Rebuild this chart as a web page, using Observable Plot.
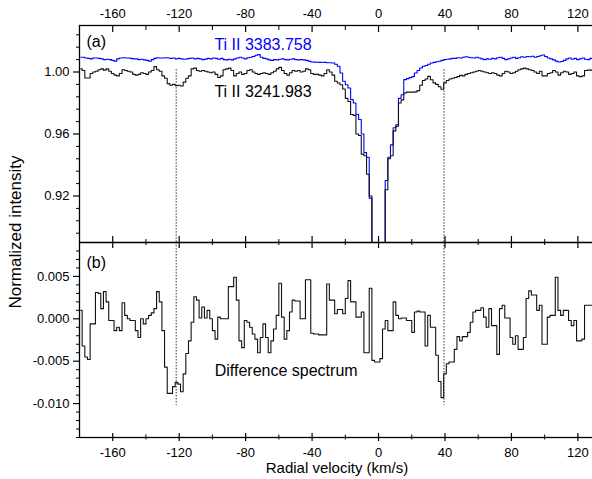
<!DOCTYPE html>
<html><head><meta charset="utf-8">
<script src="https://cdn.jsdelivr.net/npm/d3@7"></script>
<script src="https://cdn.jsdelivr.net/npm/@observablehq/plot@0.6"></script>
<style>
html,body{margin:0;padding:0;background:#fff;overflow:hidden;}
#chart{position:relative;width:592px;height:479px;overflow:hidden;font-family:Arial,"Liberation Sans",sans-serif;}
#chart svg{position:absolute;left:0;}
#ylab{position:absolute;left:14.5px;top:232px;transform:translate(-50%,-50%) rotate(-90deg);font-size:17px;line-height:1;white-space:nowrap;color:#000;}
</style></head><body><div id="chart"><div id="ylab">Normalized intensity</div></div>
<script>
// Velocity grid of the spectra (km/s): first bin edge and bin width
const vStart = -180, binWidth = 1.6;

// Panel (a): Ti II 3383.758 (blue)
const blueFlux = [
1.0095,1.0095,1.0090,1.0088,1.0085,1.0090,1.0090,1.0088,1.0085,1.0080,
1.0082,1.0080,1.0075,1.0070,1.0085,1.0090,1.0092,1.0090,1.0090,1.0088,
1.0085,1.0085,1.0080,1.0082,1.0078,1.0075,1.0070,1.0080,1.0088,1.0092,
1.0090,1.0090,1.0092,1.0090,1.0088,1.0090,1.0085,1.0088,1.0085,1.0082,
1.0085,1.0088,1.0090,1.0085,1.0088,1.0085,1.0080,1.0083,1.0088,1.0085,
1.0090,1.0088,1.0082,1.0088,1.0080,1.0078,1.0082,1.0078,1.0085,1.0090,
1.0095,1.0090,1.0085,1.0092,1.0095,1.0100,1.0108,1.0112,1.0095,1.0088,
1.0085,1.0078,1.0075,1.0080,1.0078,1.0082,1.0085,1.0080,1.0078,1.0082,
1.0085,1.0080,1.0078,1.0080,1.0078,1.0075,1.0070,1.0065,1.0064,1.0063,
1.0062,1.0063,1.0062,1.0060,1.0060,1.0058,1.0050,1.0037,0.9994,0.9940,
0.9918,0.9897,0.9822,0.9800,0.9726,0.9694,0.9600,0.9480,0.9450,0.9186,
0.8800,0.8600,0.8550,0.8600,0.8750,0.9300,0.9450,0.9530,0.9640,0.9660,
0.9830,0.9853,0.9951,0.9957,0.9964,0.9970,0.9994,1.0010,1.0026,1.0037,
1.0042,1.0050,1.0058,1.0062,1.0066,1.0069,1.0075,1.0080,1.0082,1.0085,
1.0088,1.0088,1.0092,1.0090,1.0095,1.0098,1.0095,1.0092,1.0090,1.0095,
1.0090,1.0085,1.0080,1.0085,1.0082,1.0088,1.0085,1.0092,1.0095,1.0088,
1.0080,1.0085,1.0090,1.0095,1.0088,1.0092,1.0098,1.0095,1.0100,1.0098,
1.0102,1.0095,1.0100,1.0105,1.0110,1.0100,1.0090,1.0085,1.0078,1.0070,
1.0065,1.0068,1.0075,1.0085,1.0090,1.0082,1.0088,1.0080,1.0085,1.0090,
1.0082,1.0080,1.0088,1.0090
];

// Panel (a): Ti II 3241.983 (black)
const blackFlux = [
1.0020,1.0010,0.9961,0.9961,0.9990,1.0000,1.0005,1.0015,1.0020,1.0012,
1.0020,1.0005,0.9990,0.9980,0.9975,0.9990,1.0015,1.0010,1.0005,1.0000,
0.9985,0.9980,0.9985,0.9995,0.9990,0.9985,1.0000,1.0010,1.0035,1.0015,
1.0005,0.9975,0.9960,0.9925,0.9915,0.9920,0.9912,0.9915,0.9910,0.9935,
0.9960,0.9975,1.0020,1.0025,1.0010,1.0005,1.0010,1.0005,1.0000,0.9995,
1.0000,0.9985,0.9965,0.9975,1.0015,1.0020,1.0025,1.0010,0.9975,0.9990,
1.0000,0.9985,0.9990,1.0010,1.0015,1.0000,0.9990,0.9985,0.9990,0.9995,
0.9990,0.9985,0.9995,1.0005,1.0020,1.0030,1.0010,0.9990,0.9980,0.9995,
1.0010,1.0005,1.0010,1.0000,1.0005,1.0020,1.0015,0.9990,0.9985,0.9985,
0.9980,0.9975,0.9990,1.0015,1.0000,0.9980,0.9940,0.9929,0.9918,0.9890,
0.9830,0.9810,0.9726,0.9720,0.9600,0.9590,0.9470,0.9460,0.9340,0.9200,
0.8700,0.8500,0.8500,0.8600,0.8800,0.9240,0.9440,0.9460,0.9620,0.9650,
0.9800,0.9820,0.9865,0.9870,0.9870,0.9870,0.9872,0.9880,0.9915,0.9945,
0.9955,0.9972,0.9950,0.9930,0.9920,0.9905,0.9889,0.9930,0.9945,0.9955,
0.9960,0.9965,0.9970,0.9978,0.9975,0.9985,0.9990,0.9995,1.0000,1.0005,
1.0010,1.0005,1.0000,0.9995,0.9990,0.9995,0.9990,0.9980,0.9975,0.9990,
1.0005,1.0000,0.9990,0.9995,1.0005,1.0015,1.0020,1.0025,1.0020,1.0015,
1.0010,1.0000,0.9990,1.0005,0.9975,0.9975,0.9990,0.9995,1.0010,1.0000,
0.9980,0.9995,1.0005,1.0000,0.9985,0.9990,1.0000,0.9975,0.9970,0.9975,
1.0010,1.0012,1.0012,1.0012
];

// Panel (b): difference spectrum
const diffFlux = [
0.0010,-0.0032,-0.0045,-0.0048,-0.0006,-0.0006,0.0031,0.0030,0.0012,0.0032,
0.0020,-0.0002,-0.0002,-0.0014,-0.0010,-0.0014,0.0019,0.0004,0.0000,-0.0002,
-0.0002,-0.0014,-0.0022,0.0000,-0.0006,0.0000,0.0004,0.0007,0.0012,0.0032,
0.0020,-0.0014,-0.0057,-0.0088,-0.0088,-0.0080,-0.0075,-0.0077,-0.0086,-0.0065,
-0.0041,-0.0026,-0.0004,0.0026,0.0022,0.0001,0.0014,0.0001,0.0010,0.0000,
-0.0014,-0.0024,0.0002,0.0000,0.0000,0.0000,0.0038,0.0038,0.0049,0.0022,
-0.0026,-0.0034,-0.0002,-0.0004,-0.0010,-0.0018,-0.0024,-0.0040,-0.0022,-0.0006,
-0.0022,-0.0040,-0.0026,-0.0012,0.0004,0.0042,0.0002,-0.0024,-0.0014,0.0008,
0.0022,0.0021,0.0021,0.0000,0.0000,0.0046,0.0046,-0.0017,-0.0018,-0.0018,
-0.0019,-0.0019,-0.0019,0.0041,0.0022,0.0022,0.0006,0.0011,0.0011,0.0006,
0.0024,0.0045,0.0020,0.0020,0.0002,0.0002,0.0008,-0.0040,-0.0040,0.0036,
-0.0049,-0.0051,-0.0051,-0.0047,-0.0012,-0.0002,-0.0014,-0.0014,0.0020,0.0004,
0.0000,0.0001,0.0001,-0.0002,-0.0002,-0.0016,0.0008,0.0009,0.0008,0.0008,
-0.0032,0.0004,-0.0010,-0.0010,-0.0043,-0.0074,-0.0093,-0.0065,-0.0053,-0.0051,
-0.0051,-0.0036,-0.0021,-0.0026,-0.0021,-0.0021,-0.0016,-0.0004,0.0008,0.0010,
0.0010,0.0013,0.0002,-0.0010,0.0012,-0.0008,-0.0008,-0.0042,0.0012,0.0016,
0.0001,0.0001,-0.0022,-0.0030,-0.0020,-0.0036,-0.0036,-0.0022,0.0024,0.0033,
0.0028,0.0028,0.0010,0.0016,-0.0030,-0.0030,0.0002,0.0004,0.0004,0.0049,
0.0010,0.0004,0.0010,0.0010,-0.0002,-0.0008,-0.0002,-0.0026,-0.0026,-0.0024,
0.0016,0.0016,0.0016,0.0016
];

// Axis ticks
const xMajor = [-160, -120, -80, -40, 0, 40, 80, 120];
const xMinor = [-140, -100, -60, -20, 20, 60, 100];
const aMajor = [0.92, 0.96, 1.00];
const aMinor = [0.896, 0.904, 0.912, 0.928, 0.936, 0.944, 0.952, 0.968, 0.976, 0.984, 0.992, 1.008, 1.016, 1.024];
const bMajor = [-0.010, -0.005, 0.000, 0.005];
const bMinor = [-0.014, -0.013, -0.012, -0.011, -0.009, -0.008, -0.007, -0.006, -0.004, -0.003, -0.002, -0.001, 0.001, 0.002, 0.003, 0.004, 0.006, 0.007, 0.008];

// Marked velocities (dotted lines)
const markerV = [-121.8, 39.4];
const markerTopA = 1.0015, markerBottomB = -0.0102;

// Texts
const labelBlue = "Ti II 3383.758", labelBlack = "Ti II 3241.983", labelDiff = "Difference spectrum";
const xTitle = "Radial velocity (km/s)";

const rows = blueFlux.map((b, i) => ({v: vStart + binWidth * (i + 0.5), blue: b, black: blackFlux[i], diff: diffFlux[i]}));

const svgStyle = "max-width:none;overflow:visible;background:transparent;font-family:Arial,'Liberation Sans',sans-serif;font-size:13px;color:#000;";
const xScale = {domain: [-180, 130], axis: null, label: null};
const blank = () => "";

const plotA = Plot.plot({
  width: 594, height: 252,
  marginLeft: 79, marginRight: 0, marginTop: 25, marginBottom: 10,
  style: svgStyle,
  x: xScale,
  y: {domain: [0.89, 1.03], axis: null, label: null},
  marks: [
    Plot.ruleX(markerV, {y1: markerTopA, y2: 0.89, stroke: "#333", strokeDasharray: "1.5,1.5", strokeWidth: 1}),
    Plot.line(rows, {x: "v", y: "blue", curve: "step", stroke: "#0000ff", strokeWidth: 1.1, clip: true}),
    Plot.line(rows, {x: "v", y: "black", curve: "step", stroke: "#111", strokeWidth: 1.1, clip: true}),
    Plot.axisX(xMajor, {anchor: "top", tickSize: 0, tickPadding: 8, tickFormat: d => String(d), label: null}),
    Plot.axisX(xMajor, {anchor: "top", tickSize: 6, dy: 6, tickFormat: blank, label: null, strokeWidth: 1.2}),
    Plot.axisX(xMinor, {anchor: "top", tickSize: 4, dy: 4, tickFormat: blank, label: null}),
    Plot.axisX(xMajor, {anchor: "bottom", tickSize: 12, dy: -6, tickFormat: blank, label: null, strokeWidth: 1.2}),
    Plot.axisX(xMinor, {anchor: "bottom", tickSize: 6, dy: -3, tickFormat: blank, label: null}),
    Plot.axisY(aMajor, {anchor: "left", tickSize: 6, tickPadding: 4, tickFormat: d => d.toFixed(2), label: null, strokeWidth: 1.2}),
    Plot.axisY(aMinor, {anchor: "left", tickSize: 4, dx: 1, tickFormat: blank, label: null}),
    Plot.frame({stroke: "#000", strokeWidth: 1.3}),
    Plot.text(["(a)"], {frameAnchor: "top-left", dx: 7, dy: 10, textAnchor: "start", lineAnchor: "top", fontSize: 16}),
    Plot.text([labelBlue], {x: -98.8, y: 1.0177, text: d => d, textAnchor: "start", lineAnchor: "middle", fontSize: 16, fill: "#0000ff"}),
    Plot.text([labelBlack], {x: -98.8, y: 0.9875, text: d => d, textAnchor: "start", lineAnchor: "middle", fontSize: 16, fill: "#000"})
  ]
});

const plotB = Plot.plot({
  width: 594, height: 247,
  marginLeft: 79, marginRight: 0, marginTop: 10, marginBottom: 42,
  style: svgStyle,
  x: xScale,
  y: {domain: [-0.014, 0.009], axis: null, label: null},
  marks: [
    Plot.ruleX(markerV, {y1: 0.009, y2: markerBottomB, stroke: "#333", strokeDasharray: "1.5,1.5", strokeWidth: 1}),
    Plot.line(rows, {x: "v", y: "diff", curve: "step", stroke: "#111", strokeWidth: 1.1, clip: true}),
    Plot.axisX(xMajor, {anchor: "bottom", tickSize: 0, tickPadding: 10, tickFormat: d => String(d), label: null}),
    Plot.axisX(xMajor, {anchor: "bottom", tickSize: 8, dy: -4, tickFormat: blank, label: null, strokeWidth: 1.2}),
    Plot.axisX(xMinor, {anchor: "bottom", tickSize: 5, dy: -2.5, tickFormat: blank, label: null}),
    Plot.axisY(bMajor, {anchor: "left", tickSize: 6, tickPadding: 4, tickFormat: d => d.toFixed(3), label: null, strokeWidth: 1.2}),
    Plot.axisY(bMinor, {anchor: "left", tickSize: 4, dx: 1, tickFormat: blank, label: null}),
    Plot.frame({stroke: "#000", strokeWidth: 1.3}),
    Plot.text(["(b)"], {frameAnchor: "top-left", dx: 7, dy: 14, textAnchor: "start", lineAnchor: "top", fontSize: 16}),
    Plot.text([labelDiff], {x: -98.6, y: -0.0062, text: d => d, textAnchor: "start", lineAnchor: "middle", fontSize: 16, fill: "#000"}),
    Plot.text([xTitle], {frameAnchor: "bottom", dy: 25, text: d => d, lineAnchor: "top", fontSize: 15, fill: "#000"})
  ]
});

const chart = document.getElementById("chart");
plotA.style.top = "0px";
plotB.style.top = "232px";
chart.appendChild(plotB);
chart.appendChild(plotA);
</script></body></html>
